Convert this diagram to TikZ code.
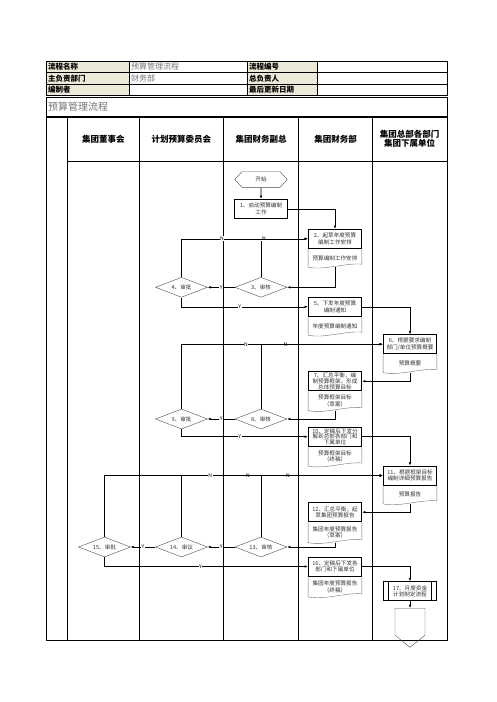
\documentclass[tikz,border=0pt]{standalone}
\usepackage{fontspec}
\setmainfont{Noto Sans CJK SC}
\usepackage{xcolor}
\usetikzlibrary{positioning,shapes.geometric,shapes.symbols,arrows.meta,calc}
\definecolor{hdrfill}{HTML}{ECE9D8}

\begin{document}
\begin{tikzpicture}[x=1pt, y=-1pt,
    boxtext/.style = {font=\fontsize{5.6}{6.6}\selectfont, text=black!80},
    tight/.style = {font=\fontsize{5.6}{5.8}\selectfont},
    procbox/.style = {boxtext, draw, line width=0.9pt, minimum width=53.4pt, minimum height=19pt, inner sep=0.8pt, align=center},
    docbox/.style = {boxtext, minimum width=53.4pt, minimum height=#1, inner sep=0.8pt, align=center,
        append after command={\pgfextra{\draw[black!55, line width=0.4pt]
            (\tikzlastnode.north west) -- (\tikzlastnode.south west)
            .. controls ($(\tikzlastnode.south west)!0.3!(\tikzlastnode.south east)+(0pt,-3.5pt)$)
            and ($(\tikzlastnode.south west)!0.7!(\tikzlastnode.south east)+(0pt,4.5pt)$)
            .. ($(\tikzlastnode.south east)+(0pt,3pt)$) -- (\tikzlastnode.north east);}}},
    docbox/.default = 18pt,
    decision/.style = {boxtext, diamond, draw=black!70, line width=0.4pt, minimum width=52pt, minimum height=20pt, inner sep=0pt, aspect=2.6},
    terminal/.style = {boxtext, signal, signal to=west and east, signal pointer angle=95, draw=black!70, line width=0.4pt, minimum width=52.4pt, minimum height=15.6pt, inner sep=0pt},
    offpage/.style = {signal, signal to=south, signal pointer angle=102, draw=black!70, line width=0.4pt, minimum width=30pt, minimum height=27pt, inner sep=0pt},
    subproc/.style = {procbox, append after command={\pgfextra{\draw[line width=0.9pt]
            ($(\tikzlastnode.north west)+(5.5pt,0pt)$) -- ($(\tikzlastnode.south west)+(5.5pt,0pt)$)
            ($(\tikzlastnode.north east)+(-5.5pt,0pt)$) -- ($(\tikzlastnode.south east)+(-5.5pt,0pt)$);}}},
    flow/.style = {-{Latex[length=3.2pt,width=2.6pt]}, line width=0.6pt},
    yn/.style = {font=\fontsize{5}{5}\selectfont, fill=white, inner sep=0.6pt},
    lane/.style = {line width=1pt},
    lanehead/.style = {font=\bfseries\fontsize{8.5}{9.5}\selectfont, align=center},
    hdrlbl/.style = {font=\bfseries\fontsize{7.5}{8}\selectfont, anchor=west, inner sep=0pt},
    hdrval/.style = {font=\fontsize{8}{8}\selectfont, text=black!55, anchor=west, inner sep=0pt}
]
\useasboundingbox (0,0) rectangle (496,702);

% header table
\fill[hdrfill] (46,61) rectangle (129.3,95);
\fill[hdrfill] (247.3,61) rectangle (317.3,95);
\draw[line width=0.8pt] (46,61) rectangle (447,95);
\draw[line width=0.8pt] (46,72.3) -- (447,72.3) (46,84) -- (447,84);
\foreach \x in {129.3,247.3,317.3} \draw[line width=0.8pt] (\x,61) -- (\x,95);
\foreach \y/\txt [count=\i] in {66.6/流程名称, 78.2/主负责部门, 89.6/编制者}
    \node[hdrlbl] (lblA\i) at (48,\y) {\txt};
\foreach \y/\txt [count=\i] in {66.6/流程编号, 78.2/总负责人, 89.6/最后更新日期}
    \node[hdrlbl] (lblB\i) at (249,\y) {\txt};
\node[hdrval] (valname) at (131,66.6) {预算管理流程};
\node[hdrval] (valdept) at (131,78.2) {财务部};

% swimlane frame
\draw[lane] (46,97.3) rectangle (447,640);
\draw[line width=1.8pt] (46,116.7) -- (447,116.7);
\draw[lane] (67.3,161) -- (447,161);
\foreach \x in {67.3,139.3,223.3,298.7,372.7} \draw[lane] (\x,116.7) -- (\x,640);
\node[anchor=west, font=\fontsize{10}{10}\selectfont, text=black!55, inner sep=0pt] (title) at (48,107) {预算管理流程};
\foreach \x/\txt [count=\i] in {103.3/集团董事会, 181.3/计划预算委员会, 261/集团财务副总, 335.7/集团财务部, 409.7/{集团总部各部门\\集团下属单位}}
    \node[lanehead] (lane\i) at (\x,138.9) {\txt};

% steps
\node[terminal] (start) at (261,179.5) {开始};
\node[procbox] (b1) at (261,208.8) {1、启动预算编制\\工作};
\node[procbox] (b2) at (335,238.8) {2、起草年度预算\\编制工作安排};
\node[docbox, below=0pt of b2] (doc2) {预算编制工作安排};
\node[decision] (d3) at (261,287.3) {3、审核};
\node[decision] (d4) at (181.5,287.3) {4、审批};
\node[procbox] (b5) at (335,306.8) {5、下发年度预算\\编制通知};
\node[docbox, below=0pt of b5] (doc5) {年度预算编制通知};
\node[procbox] (b6) at (410,344.2) {6、根据要求编制\\部门/单位预算概要};
\node[docbox, below=0pt of b6] (doc6) {预算概要};
\node[procbox, tight] (b7) at (335,381.2) {7、汇总平衡，编\\制预算框架，形成\\总体预算目标};
\node[docbox=19pt, below=0pt of b7] (doc7) {预算框架目标\\（草案）};
\node[decision] (d8) at (261,419) {8、审核};
\node[decision] (d9) at (181.5,419) {9、审批};
\node[procbox, tight] (b10) at (335,436.7) {10、定稿后下发分\\解到总部各部门和\\下属单位};
\node[docbox=19pt, below=0pt of b10] (doc10) {预算框架目标\\（终稿）};
\node[procbox] (b11) at (410,475.5) {11、根据框架目标\\编制详细预算报告};
\node[docbox, below=0pt of b11] (doc11) {预算报告};
\node[procbox] (b12) at (335,512.2) {12、汇总平衡，起\\草集团预算报告};
\node[docbox=20pt, below=0pt of b12] (doc12) {集团年度预算报告\\（草案）};
\node[decision] (d13) at (261,547) {13、审核};
\node[decision] (d14) at (181.5,547) {14、审议};
\node[decision] (d15) at (104.5,547) {15、审批};
\node[procbox] (b16) at (335,566.5) {16、定稿后下发各\\部门和下属单位};
\node[docbox=20pt, below=0pt of b16] (doc16) {集团年度预算报告\\（终稿）};
\node[subproc] (b17) at (410,591.2) {17、月度资金\\计划制定流程};
\node[offpage] (stop) at (410,621.7) {};

% connectors
\draw[flow] (start) -- (b1);
\draw[flow] (b1.east) -| (b2.north);
\draw[flow] (doc2.south) |- (d3.east);
\draw[flow] (d3.west) -- node[yn] {Y} (d4.east);
\draw[flow] (d3.north) |- node[yn, pos=0.53] {N} (b2.west);
\draw[flow] (d4.north) |- node[yn, pos=0.66] {N} (b2.west);
\draw[flow] (d4.south) |- node[yn, pos=0.73] {Y} (b5.west);
\draw[flow] (b5.east) -| (b6.north);
\draw[flow] (d8.north) |- node[yn, pos=0.6] {N} (b6.west);
\draw[flow] (d9.north) |- node[yn, pos=0.66] {N} (b6.west);
\draw[flow] (doc6.south) |- (b7.east);
\draw[flow] (doc7.south) |- (d8.east);
\draw[flow] (d8.west) -- node[yn] {Y} (d9.east);
\draw[flow] (d9.south) |- node[yn, pos=0.73] {Y} (b10.west);
\draw[flow] (b10.east) -| (b11.north);
\draw[flow] (d13.north) |- node[yn, pos=0.61] {N} (b11.west);
\draw[flow] (d14.north) |- node[yn, pos=0.665] {N} (b11.west);
\draw[flow] (d15.north) |- node[yn, pos=0.69] {N} (b11.west);
\draw[flow] (doc11.south) |- (b12.east);
\draw[flow] (doc12.south) |- (d13.east);
\draw[flow] (d13.west) -- node[yn] {Y} (d14.east);
\draw[flow] (d14.west) -- node[yn] {Y} (d15.east);
\draw[flow] (d15.south) |- node[yn, pos=0.736] {Y} (b16.west);
\draw[flow] (b16.east) -| (b17.north);
\draw[flow] (b17.south) -- (stop.north);
\end{tikzpicture}
\end{document}
